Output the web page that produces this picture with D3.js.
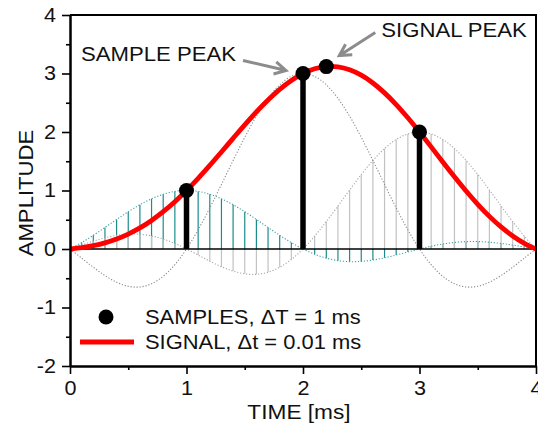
<!DOCTYPE html>
<html>
<head>
<meta charset="utf-8">
<script src="https://cdn.jsdelivr.net/npm/d3@7"></script>
<style>
  html, body { margin: 0; padding: 0; background: #fff; }
  svg text { font-family: "Liberation Sans", Arial, sans-serif; fill: #111; }
</style>
</head>
<body>
<svg id="chart" width="538" height="428"></svg>
<script>
// Time grid (ms) for the tabulated curves, step 0.1 ms
const timeGrid = d3.range(41).map(i => +(i * 0.1).toFixed(1));

// Samples taken every 1 ms
const sampleTimes = [1, 2, 3];
const sampleValues = [1, 3, 2];

// Reconstructed signal
const signalValues = [
  0, 0.022, 0.056, 0.104, 0.170, 0.255, 0.360, 0.488, 0.638, 0.809,
  1, 1.208, 1.429, 1.659, 1.892, 2.122, 2.343, 2.547, 2.729, 2.881,
  3, 3.080, 3.118, 3.113, 3.063, 2.971, 2.838, 2.669, 2.469, 2.243,
  2, 1.746, 1.488, 1.235, 0.991, 0.764, 0.558, 0.377, 0.223, 0.097, 0
];

// Interpolation kernels contributed by each sample
const kernel1 = [
  0, 0.109, 0.234, 0.368, 0.505, 0.637, 0.757, 0.858, 0.935, 0.984,
  1, 0.984, 0.935, 0.858, 0.757, 0.637, 0.505, 0.368, 0.234, 0.109,
  0, -0.089, -0.156, -0.198, -0.216, -0.212, -0.189, -0.151, -0.104, -0.052,
  0, 0.047, 0.085, 0.112, 0.126, 0.127, 0.116, 0.095, 0.067, 0.034, 0
];
const kernel2 = [
  0, -0.155, -0.312, -0.454, -0.568, -0.637, -0.649, -0.594, -0.468, -0.268,
  0, 0.328, 0.702, 1.104, 1.514, 1.910, 2.271, 2.575, 2.807, 2.951,
  3, 2.951, 2.807, 2.575, 2.271, 1.910, 1.514, 1.104, 0.702, 0.328,
  0, -0.268, -0.468, -0.594, -0.649, -0.637, -0.568, -0.454, -0.312, -0.155, 0
];
const kernel3 = [
  0, 0.068, 0.134, 0.191, 0.233, 0.255, 0.252, 0.224, 0.170, 0.094,
  0, -0.104, -0.208, -0.303, -0.378, -0.424, -0.433, -0.396, -0.312, -0.179,
  0, 0.219, 0.468, 0.736, 1.009, 1.273, 1.514, 1.717, 1.871, 1.967,
  2, 1.967, 1.871, 1.717, 1.514, 1.273, 1.009, 0.736, 0.468, 0.219, 0
];

// Signal peak
const peakTime = 2.2;
const peakValue = 3.118;

const xTicks = [0, 1, 2, 3, 4];
const yTicks = [-2, -1, 0, 1, 2, 3, 4];
const xMinorTicks = [0.5, 1.5, 2.5, 3.5];
const yMinorTicks = [-1.5, -0.5, 0.5, 1.5, 2.5, 3.5];

const svg = d3.select("#chart");
const plotLeft = 70, plotRight = 536, plotTop = 15, plotBottom = 366;

const x = d3.scaleLinear().domain([0, 4]).range([plotLeft, plotRight]);
const y = d3.scaleLinear().domain([-2, 4]).range([plotBottom, plotTop]);

const teal = "#1b8c8c";
const hatchGrey = "#c2c2c2";
const stretch = 1.08;

// Text with a slight horizontal stretch
function label(g, tx, ty, str, size, anchor, rotate) {
  return g.append("text")
    .attr("transform", `translate(${tx},${ty})` + (rotate ? ` rotate(${rotate})` : "") + ` scale(${stretch},1)`)
    .attr("font-size", size)
    .attr("text-anchor", anchor || "start")
    .text(str);
}

const pts = arr => arr.map((v, i) => [timeGrid[i], v]);
const line = d3.line().x(d => x(d[0])).y(d => y(d[1])).curve(d3.curveCatmullRom);

// Hatching: vertical lines from zero to the kernel value
function hatch(values, color) {
  svg.append("g").selectAll("line")
    .data(pts(values).filter(d => Math.abs(d[1]) > 0.0005))
    .join("line")
    .attr("x1", d => x(d[0])).attr("x2", d => x(d[0]))
    .attr("y1", y(0)).attr("y2", d => y(d[1]))
    .attr("stroke", color).attr("stroke-width", 1.2);
}
hatch(kernel1, teal);
hatch(kernel3, hatchGrey);

// Dotted kernel curves
function dotted(values, color) {
  svg.append("path").datum(pts(values))
    .attr("d", line).attr("fill", "none")
    .attr("stroke", color).attr("stroke-width", 1.1)
    .attr("stroke-dasharray", "1.2,1.8");
}
dotted(kernel3, "#a8a8a8");
dotted(kernel2, "#8a8a8a");
dotted(kernel1, "#3fa0a0");

// Zero line
svg.append("line")
  .attr("x1", x(0)).attr("x2", x(4)).attr("y1", y(0)).attr("y2", y(0))
  .attr("stroke", "#000").attr("stroke-width", 1.6);

// Sample stems
svg.append("g").selectAll("line")
  .data(sampleTimes.map((t, i) => [t, sampleValues[i]]))
  .join("line")
  .attr("x1", d => x(d[0])).attr("x2", d => x(d[0]))
  .attr("y1", y(0)).attr("y2", d => y(d[1]))
  .attr("stroke", "#000").attr("stroke-width", 5.5);

// Signal
svg.append("path").datum(pts(signalValues))
  .attr("d", line).attr("fill", "none")
  .attr("stroke", "#f00").attr("stroke-width", 4.8)
  .attr("stroke-linejoin", "round");

// Sample dots and signal peak dot
svg.append("g").selectAll("circle")
  .data(sampleTimes.map((t, i) => [t, sampleValues[i]]).concat([[peakTime, peakValue]]))
  .join("circle")
  .attr("cx", d => x(d[0])).attr("cy", d => y(d[1]))
  .attr("r", 7.5).attr("fill", "#000");

// Axes
const fmt = d => String(d);
const axisG = svg.append("g");
const yAxis = axisG.append("g").attr("transform", `translate(${plotLeft},0)`)
  .call(d3.axisLeft(y).tickValues(yTicks).tickFormat(fmt).tickSize(8).tickPadding(6).tickSizeOuter(0));
axisG.append("g").attr("transform", `translate(${plotLeft},0)`)
  .call(d3.axisLeft(y).tickValues(yMinorTicks).tickSize(4).tickFormat("").tickSizeOuter(0));
const xAxis = axisG.append("g").attr("transform", `translate(0,${plotBottom})`)
  .call(d3.axisBottom(x).tickValues(xTicks).tickFormat(fmt).tickSize(8).tickPadding(7).tickSizeOuter(0));
axisG.append("g").attr("transform", `translate(0,${plotBottom})`)
  .call(d3.axisBottom(x).tickValues(xMinorTicks).tickSize(4).tickFormat("").tickSizeOuter(0));
axisG.selectAll(".domain").attr("stroke", "#000").attr("stroke-width", 2);
axisG.selectAll(".tick line").attr("stroke", "#000").attr("stroke-width", 1.6);
axisG.selectAll(".tick text")
  .attr("font-size", 20)
  .attr("font-family", "Liberation Sans, Arial, sans-serif")
  .attr("fill", "#111")
  .attr("transform", `scale(${stretch},1)`);
yAxis.selectAll(".tick text").attr("x", -14 / stretch);

// Frame top and right
svg.append("path")
  .attr("d", `M${plotLeft},${plotTop}H${plotRight}V${plotBottom}`)
  .attr("fill", "none").attr("stroke", "#000").attr("stroke-width", 2);

// Axis titles
label(svg, 299, 419, "TIME [ms]", 21, "middle");
label(svg, 33, 193, "AMPLITUDE", 20.5, "middle", -90);

// Annotations with arrows
const arrowColor = "#8c8c8c";
function arrow(x1, y1, x2, y2) {
  const a = Math.atan2(y2 - y1, x2 - x1);
  const h = 13, w = 0.5;
  svg.append("path")
    .attr("d", `M${x1},${y1}L${x2 - 3 * Math.cos(a)},${y2 - 3 * Math.sin(a)}` +
      `M${x2 - h * Math.cos(a - w)},${y2 - h * Math.sin(a - w)}L${x2},${y2}` +
      `L${x2 - h * Math.cos(a + w)},${y2 - h * Math.sin(a + w)}`)
    .attr("fill", "none").attr("stroke", arrowColor).attr("stroke-width", 3)
    .attr("stroke-linejoin", "miter").attr("stroke-linecap", "butt");
}
const sx = x(sampleTimes[1]), sy = y(sampleValues[1]);
arrow(sx - 60, sy - 13, sx - 17, sy - 3);
label(svg, sx - 222, sy - 12.5, "SAMPLE PEAK", 20.5, "start");

const px = x(peakTime), py = y(peakValue);
arrow(px + 49, py - 34, px + 13, py - 11);
label(svg, px + 55, py - 30, "SIGNAL PEAK", 20.5, "start");

// Legend
svg.append("circle").attr("cx", 106).attr("cy", 317).attr("r", 7.5).attr("fill", "#000");
label(svg, 145, 323.5, "SAMPLES, \u0394T = 1 ms", 20.3, "start");
svg.append("line").attr("x1", 80).attr("x2", 134).attr("y1", 342).attr("y2", 342)
  .attr("stroke", "#f00").attr("stroke-width", 5);
label(svg, 145, 348.5, "SIGNAL, \u0394t = 0.01 ms", 20.3, "start");
</script>
</body>
</html>
